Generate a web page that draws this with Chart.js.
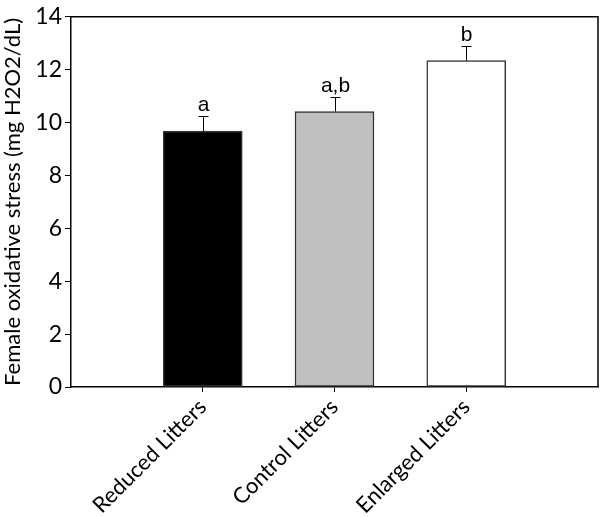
<!DOCTYPE html>
<html>
<head>
<meta charset="utf-8">
<script src="https://cdn.jsdelivr.net/npm/chart.js@4"></script>
<style>
  html, body { margin: 0; padding: 0; background: #fff; }
  #wrap { width: 600px; height: 517px; }
</style>
</head>
<body>
<div id="wrap"><canvas id="chart" width="600" height="517"></canvas></div>
<script>
// Female oxidative stress by litter treatment
const categories = ['Reduced Litters', 'Control Litters', 'Enlarged Litters'];
const means = [9.68, 10.42, 12.34];
const errors = [0.56, 0.54, 0.56];
const letters = ['a', 'a,b', 'b'];
const barColors = ['#000000', '#c0c0c0', '#ffffff'];
const yTicks = [0, 2, 4, 6, 8, 10, 12, 14];

const tickFont = { family: 'Lato, "Open Sans", sans-serif', size: 22 };

// upper error bars + significance letters
const errorBars = {
    id: 'errorBars',
    afterDatasetsDraw(chart) {
        const ctx = chart.ctx;
        const x = chart.scales.x;
        const y = chart.scales.y;
        ctx.save();
        ctx.strokeStyle = '#000';
        ctx.lineWidth = 1;
        means.forEach((m, i) => {
            const px = Math.round(x.getPixelForValue(i + 1)) + 0.5;
            const top = y.getPixelForValue(m);
            const cap = Math.round(y.getPixelForValue(m + errors[i])) + 0.5;
            ctx.beginPath();
            ctx.moveTo(px, top);
            ctx.lineTo(px, cap);
            ctx.moveTo(px - 5, cap);
            ctx.lineTo(px + 5, cap);
            ctx.stroke();
            ctx.fillStyle = '#000';
            ctx.font = '21px "Liberation Sans", Arial, sans-serif';
            ctx.textAlign = 'center';
            ctx.textBaseline = 'alphabetic';
            ctx.fillText(letters[i], px, cap - 6);
        });
        ctx.restore();
    }
};

// top and right border of the plot box
const frame = {
    id: 'frame',
    afterDraw(chart) {
        const a = chart.chartArea;
        const ctx = chart.ctx;
        ctx.save();
        ctx.strokeStyle = '#000';
        ctx.lineWidth = 1.5;
        ctx.beginPath();
        ctx.moveTo(a.left, a.top);
        ctx.lineTo(a.right, a.top);
        ctx.lineTo(a.right, a.bottom);
        ctx.stroke();
        ctx.restore();
    }
};

new Chart(document.getElementById('chart'), {
    type: 'bar',
    data: {
        datasets: [{
            data: means.map((v, i) => ({ x: i + 1, y: v })),
            backgroundColor: barColors,
            borderColor: '#333',
            borderWidth: 1.5,
            borderSkipped: false,
            barThickness: 79
        }]
    },
    options: {
        responsive: false,
        animation: false,
        layout: { padding: { top: 7, right: 2, left: 0, bottom: 0 } },
        plugins: {
            legend: { display: false },
            tooltip: { enabled: false }
        },
        scales: {
            x: {
                type: 'linear',
                min: 0,
                max: 4,
                offset: false,
                afterBuildTicks(scale) {
                    scale.ticks = categories.map((c, i) => ({ value: i + 1 }));
                },
                afterFit(scale) { scale.height = 130; },
                grid: {
                    offset: false,
                    drawOnChartArea: false,
                    tickLength: 5,
                    color: '#000'
                },
                border: { color: '#000', width: 1.5 },
                ticks: {
                    autoSkip: false,
                    maxRotation: 45,
                    minRotation: 45,
                    color: '#000',
                    font: tickFont,
                    padding: 2,
                    callback: (v) => categories[v - 1]
                }
            },
            y: {
                min: 0,
                max: 14,
                afterBuildTicks(scale) {
                    scale.ticks = yTicks.map(v => ({ value: v }));
                },
                afterFit(scale) { scale.width = 71; },
                grid: {
                    drawOnChartArea: false,
                    tickLength: 6,
                    color: '#000'
                },
                border: { color: '#000', width: 1.5 },
                ticks: {
                    color: '#000',
                    font: { family: 'Lato, "Open Sans", sans-serif', size: 23 },
                    padding: 3
                },
                title: {
                    display: true,
                    text: 'Female oxidative stress (mg H2O2/dL)',
                    color: '#000',
                    font: tickFont,
                    padding: { top: 0, bottom: 1 }
                }
            }
        }
    },
    plugins: [errorBars, frame]
});
</script>
</body>
</html>
